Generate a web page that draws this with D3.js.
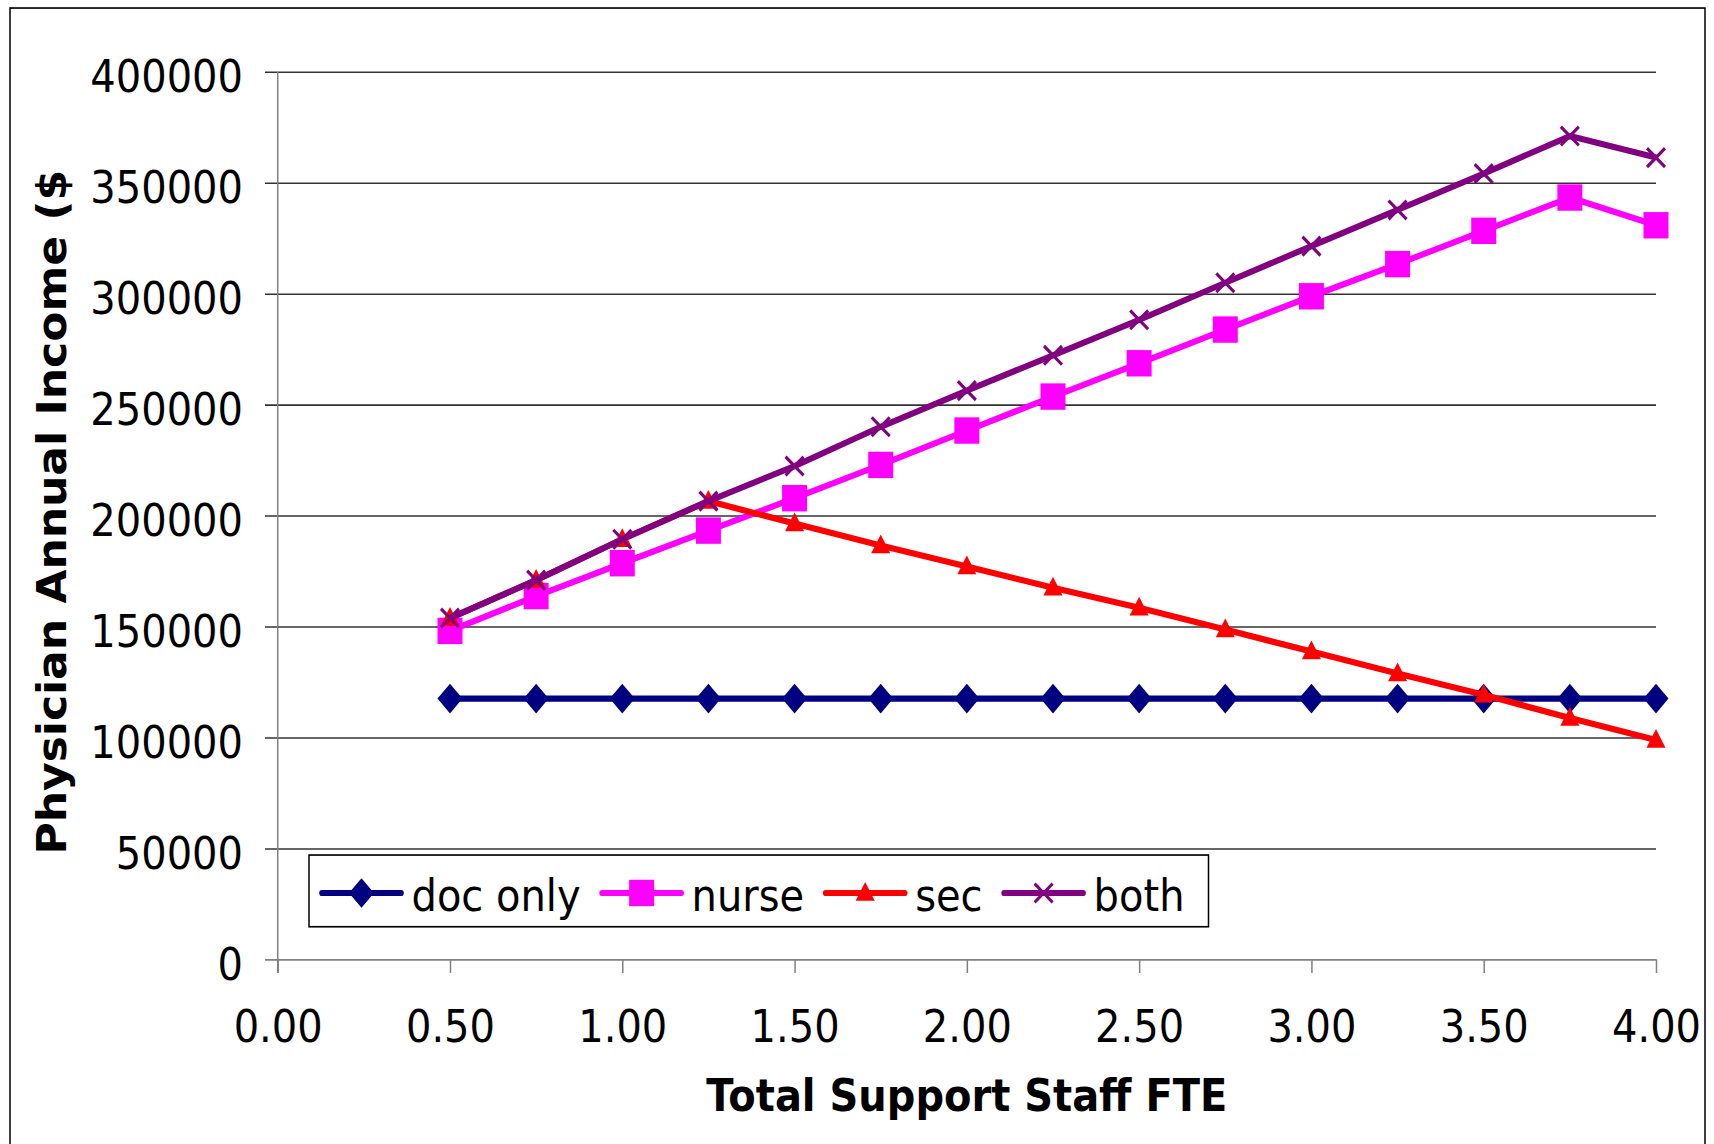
<!DOCTYPE html>
<html>
<head>
<meta charset="utf-8">
<script src="https://cdn.jsdelivr.net/npm/d3@7"></script>
<style>
  body { margin: 0; background: #fff; }
  text { font-family: "DejaVu Sans", Verdana, sans-serif; fill: #000; }
</style>
</head>
<body>
<div id="chart"></div>
<script>
// chart values
var fte = [0.50, 0.75, 1.00, 1.25, 1.50, 1.75, 2.00, 2.25, 2.50, 2.75, 3.00, 3.25, 3.50, 3.75, 4.00];
var docOnly = [117500, 117500, 117500, 117500, 117500, 117500, 117500, 117500, 117500, 117500, 117500, 117500, 117500, 117500, 117500];
var nurse = [148000, 163700, 178500, 193200, 207800, 222800, 238300, 253600, 268600, 283800, 298800, 313300, 328300, 343300, 330800];
var sec = [153800, 170900, 189300, 206500, 196400, 186500, 177000, 167400, 158400, 148600, 138700, 128800, 119200, 108700, 98800];
var both = [153800, 170900, 189300, 206500, 222300, 240000, 256300, 272200, 288200, 304900, 321400, 337700, 354100, 371000, 361300];
var xTicks = [0, 0.5, 1, 1.5, 2, 2.5, 3, 3.5, 4];
var yTicks = [0, 50000, 100000, 150000, 200000, 250000, 300000, 350000, 400000];
var seriesNames = ["doc only", "nurse", "sec", "both"];
var seriesColors = ["#000080", "#ff00ff", "#ff0000", "#800080"];
var seriesShapes = ["diamond", "square", "triangle", "cross"];

var svgWidth = 1714;
var svgHeight = 1144;
// the source picture is stretched vertically, so draw in a squeezed box
var stretch = 1.1;
var boxHeight = svgHeight / stretch;

var margin = { top: 65.2, left: 277.7, right: 58, bottom: boxHeight - 872.1 };
var width = svgWidth - margin.left - margin.right;
var height = boxHeight - margin.top - margin.bottom;

var svg = d3.select("#chart")
  .append("svg")
  .attr("width", svgWidth)
  .attr("height", svgHeight)
  .attr("viewBox", `0 0 ${svgWidth} ${boxHeight}`)
  .attr("preserveAspectRatio", "none");

// outer frame
svg.append("rect")
  .attr("x", 10)
  .attr("y", 7.3)
  .attr("width", 1695)
  .attr("height", boxHeight + 20)
  .attr("fill", "none")
  .attr("stroke", "#000")
  .attr("stroke-width", 1.5);

var chartGroup = svg.append("g")
  .attr("transform", `translate(${margin.left}, ${margin.top})`);

var xScale = d3.scaleLinear().domain([0, 4]).range([0, width]);
var yScale = d3.scaleLinear().domain([0, 400000]).range([height, 0]);

// y axis with gridlines
var leftAxis = d3.axisLeft(yScale)
  .tickValues(yTicks)
  .tickSize(-(width + 12.7))
  .tickPadding(22)
  .tickFormat(d3.format("d"));

var yAxis = chartGroup.append("g")
  .attr("transform", "translate(-12.7, 0)")
  .call(leftAxis);
yAxis.select(".domain").remove();
yAxis.selectAll(".tick line")
  .attr("stroke", (d) => d === 0 ? "#808080" : "#333")
  .attr("stroke-width", 1.4);
yAxis.selectAll(".tick text")
  .attr("dy", 0)
  .attr("y", 18)
  .attr("font-size", "40px")
  .attr("font-family", "DejaVu Sans, Verdana, sans-serif");

// x axis
var bottomAxis = d3.axisBottom(xScale)
  .tickValues(xTicks)
  .tickSize(12.4)
  .tickFormat(d3.format(".2f"));

var xAxis = chartGroup.append("g")
  .attr("transform", `translate(0, ${height})`)
  .call(bottomAxis);
xAxis.select(".domain").remove();
xAxis.selectAll(".tick line")
  .attr("stroke", "#808080")
  .attr("stroke-width", 1.5);
xAxis.selectAll(".tick text")
  .attr("dy", 0)
  .attr("y", 75.2)
  .attr("font-size", "40px")
  .attr("font-family", "DejaVu Sans, Verdana, sans-serif");

// vertical axis line
chartGroup.append("line")
  .attr("x1", 0).attr("x2", 0)
  .attr("y1", 0).attr("y2", height + 12.4)
  .attr("stroke", "#808080")
  .attr("stroke-width", 1.5);

// axis titles
svg.append("text")
  .attr("x", margin.left + width / 2)
  .attr("y", 1010)
  .attr("text-anchor", "middle")
  .attr("font-size", "40px")
  .attr("font-weight", "bold")
  .text("Total Support Staff FTE");

svg.append("text")
  .attr("transform", `translate(66, ${margin.top + height / 2 - 3}) rotate(-90)`)
  .attr("text-anchor", "middle")
  .attr("font-size", "40px")
  .attr("font-weight", "bold")
  .text("Physician Annual Income ($");

// marker shapes
function markerPath(shape) {
  switch (shape) {
    case "diamond": return "M0,-13.5L12.5,0L0,13.5L-12.5,0Z";
    case "square": return "M-12.5,-12L12.5,-12L12.5,12L-12.5,12Z";
    case "triangle": return "M0,-10L9.5,7L-9.5,7Z";
    case "cross": return "M-9,-8.5L9,8.5M-9,8.5L9,-8.5";
  }
}

function drawMarker(g, shape, color) {
  var p = g.append("path").attr("d", markerPath(shape));
  if (shape === "cross") {
    p.attr("fill", "none").attr("stroke", color).attr("stroke-width", 3);
  } else {
    p.attr("fill", color);
  }
  return p;
}

var allSeries = [docOnly, nurse, sec, both];

var line = d3.line()
  .x((d, i) => xScale(fte[i]))
  .y((d) => yScale(d));

// draw order: doc, nurse, sec, both
allSeries.forEach(function(values, s) {
  var g = chartGroup.append("g");
  g.append("path")
    .datum(values)
    .attr("d", line)
    .attr("fill", "none")
    .attr("stroke", seriesColors[s])
    .attr("stroke-width", 5.6)
    .attr("stroke-linejoin", "round");
  values.forEach(function(v, i) {
    var m = g.append("g")
      .attr("transform", `translate(${xScale(fte[i])}, ${yScale(v)})`);
    drawMarker(m, seriesShapes[s], seriesColors[s]);
  });
});

// legend
var legend = svg.append("g");
legend.append("rect")
  .attr("x", 309)
  .attr("y", 777.3)
  .attr("width", 899.5)
  .attr("height", 65.2)
  .attr("fill", "#fff")
  .attr("stroke", "#000")
  .attr("stroke-width", 1.5);

var cursor = 322;
seriesNames.forEach(function(name, s) {
  var g = legend.append("g").attr("transform", `translate(${cursor}, 811.8)`);
  g.append("line")
    .attr("x1", 0).attr("x2", 79)
    .attr("y1", 0).attr("y2", 0)
    .attr("stroke", seriesColors[s])
    .attr("stroke-width", 5.6)
    .attr("stroke-linecap", "round");
  var m = g.append("g").attr("transform", "translate(39.5, 0)");
  drawMarker(m, seriesShapes[s], seriesColors[s]);
  var t = g.append("text")
    .attr("x", 89.5)
    .attr("y", 16.4)
    .attr("font-size", "40px")
    .text(name);
  cursor += 89.5 + t.node().getComputedTextLength() + 21.5;
});
</script>
</body>
</html>
